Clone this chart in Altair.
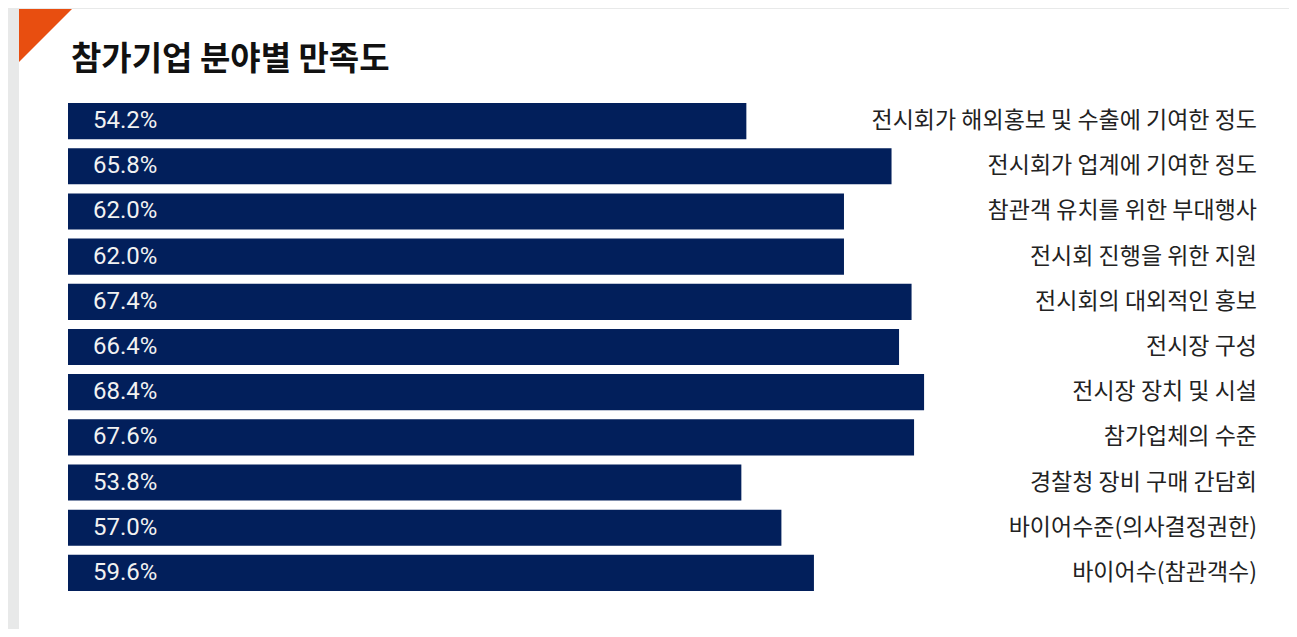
import altair as alt
import pandas as pd

categories = [
    "전시회가 해외홍보 및 수출에 기여한 정도",
    "전시회가 업계에 기여한 정도",
    "참관객 유치를 위한 부대행사",
    "전시회 진행을 위한 지원",
    "전시회의 대외적인 홍보",
    "전시장 구성",
    "전시장 장치 및 시설",
    "참가업체의 수준",
    "경찰청 장비 구매 간담회",
    "바이어수준(의사결정권한)",
    "바이어수(참관객수)",
]
values = [54.2, 65.8, 62.0, 62.0, 67.4, 66.4, 68.4, 67.6, 53.8, 57.0, 59.6]
title_text = "참가기업 분야별 만족도"

df = pd.DataFrame({
    "cat": categories,
    "val": values,
    "label": [f"{v:.1f}%" for v in values],
})
one = pd.DataFrame({"t": [title_text]})

W = 1189
H = 497
FONT = "Noto Sans CJK KR"

y_enc = alt.Y("cat:N", sort=categories, axis=None,
              scale=alt.Scale(paddingInner=0.2, paddingOuter=0.1))
x_scale = alt.Scale(domain=[0, 95], nice=False, zero=True)

card = alt.Chart(one).mark_rect(color="white").encode(
    x=alt.value(-49), x2=alt.value(1300), y=alt.value(-89.5), y2=alt.value(600)
)
tri = alt.Chart(one).mark_point(
    shape="M -1 -1 L 1 -1 L -1 1 Z", filled=True, color="#e84e10", opacity=1, size=2809
).encode(x=alt.value(-22.5), y=alt.value(-63))
title = alt.Chart(one).mark_text(
    align="left", baseline="middle", font=FONT, fontSize=33, fontWeight="bold", color="#111111"
).encode(x=alt.value(3), y=alt.value(-39), text="t:N")

bars = alt.Chart(df).mark_bar(color="#021f5b").encode(
    x=alt.X("val:Q", scale=x_scale, axis=None),
    y=y_enc,
)
vals = alt.Chart(df).mark_text(
    align="left", baseline="middle", font="Roboto", fontSize=24, color="#f2f2f2"
).encode(x=alt.value(25), y=y_enc, text="label:N")
cats = alt.Chart(df).mark_text(
    align="right", baseline="middle", font=FONT, fontSize=23, color="#222222"
).encode(x=alt.value(W), y=y_enc, text="cat:N")

chart = alt.layer(card, tri, title, bars, vals, cats).properties(
    width=W, height=H,
    autosize=alt.AutoSizeParams(type="none"),
    padding={"left": 60, "top": 90.5, "right": 32, "bottom": 33},
    background="#e8e9e9",
).configure_view(stroke=None)

chart.save("out.html", embed_options={"renderer": "svg", "actions": False})
